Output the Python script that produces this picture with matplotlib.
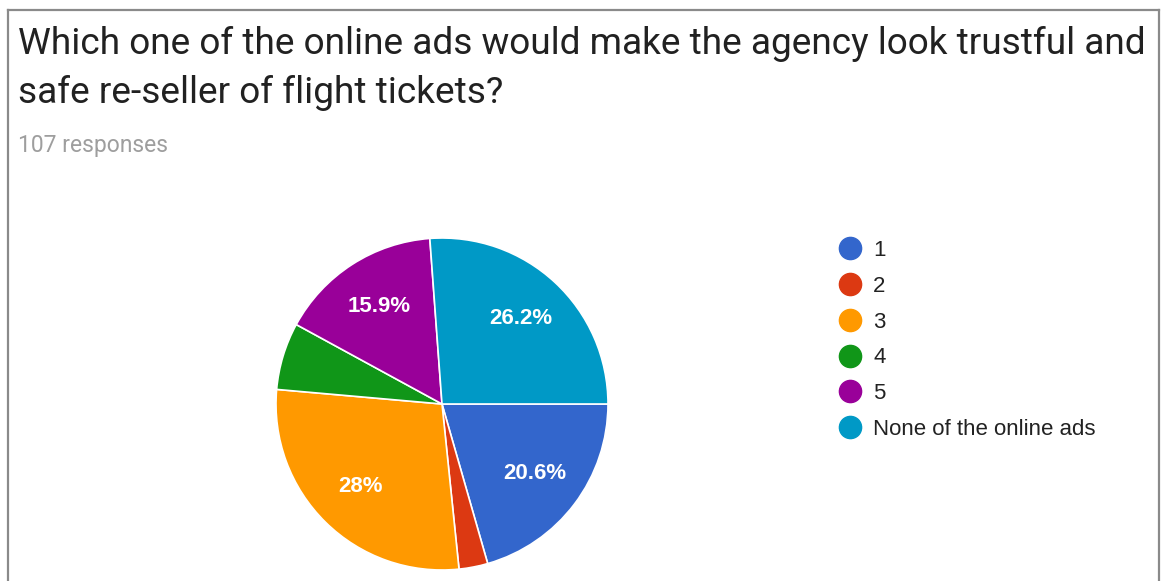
import matplotlib.pyplot as plt
from matplotlib.lines import Line2D

# survey answers
labels = ['1', '2', '3', '4', '5', 'None of the online ads']
counts = [22, 3, 30, 7, 17, 28]
colors = ['#3366cc', '#dc3912', '#ff9900', '#109618', '#990099', '#0099c6']
title_lines = ['Which one of the online ads would make the agency look trustful and',
               'safe re-seller of flight tickets?']
n_responses = sum(counts)

W, H = 1162, 581
fig = plt.figure(figsize=(W / 100, H / 100), dpi=100)
fig.patch.set_facecolor('white')

# card border (open at the bottom)
border = '#8a8a8a'
fig.add_artist(Line2D([8 / W, 8 / W], [0, 1 - 10 / H], color=border, lw=1.6))
fig.add_artist(Line2D([1159 / W, 1159 / W], [0, 1 - 10 / H], color=border, lw=1.6))
fig.add_artist(Line2D([8 / W, 1159 / W], [1 - 10 / H, 1 - 10 / H], color=border, lw=1.6))

fig.text(18 / W, 1 - 54 / H, title_lines[0], fontsize=26.65, family='Roboto',
         color='#212121', va='baseline')
fig.text(18 / W, 1 - 103 / H, title_lines[1], fontsize=26.65, family='Roboto',
         color='#212121', va='baseline')
fig.text(18 / W, 1 - 152 / H, f'{n_responses} responses', fontsize=16.5,
         family='Roboto', color='#9e9e9e', va='baseline')

# pie: centre (442, 404) px, radius 166 px
cx, cy, r = 442, 404, 166
ax = fig.add_axes([(cx - r) / W, (H - cy - r) / H, 2 * r / W, 2 * r / H])


def pct_label(p):
    if p < 10:
        return ''
    s = f'{p:.1f}'
    if s.endswith('.0'):
        s = s[:-2]
    return s + '%'


wedges, _, autotexts = ax.pie(counts, colors=colors, startangle=0, counterclock=False,
                              autopct=pct_label, pctdistance=0.7, radius=1,
                              wedgeprops=dict(edgecolor='white', linewidth=1.2))
for t in autotexts:
    t.set_color('white')
    t.set_fontsize(16)
    t.set_fontweight('bold')
    t.set_family('Liberation Sans')
ax.set_xlim(-1, 1)
ax.set_ylim(-1, 1)
ax.axis('off')

handles = [Line2D([], [], marker='o', linestyle='', markersize=16,
                  markerfacecolor=c, markeredgecolor=c) for c in colors]
fig.legend(handles, labels, loc='upper left',
           bbox_to_anchor=(837 / W, 1 - 240 / H), frameon=False,
           prop=dict(family='Liberation Sans', size=16),
           labelspacing=0.665, handletextpad=0.42, handlelength=1.2,
           borderaxespad=0, borderpad=0, labelcolor='#222222')

fig.savefig('out.png', dpi=100)
